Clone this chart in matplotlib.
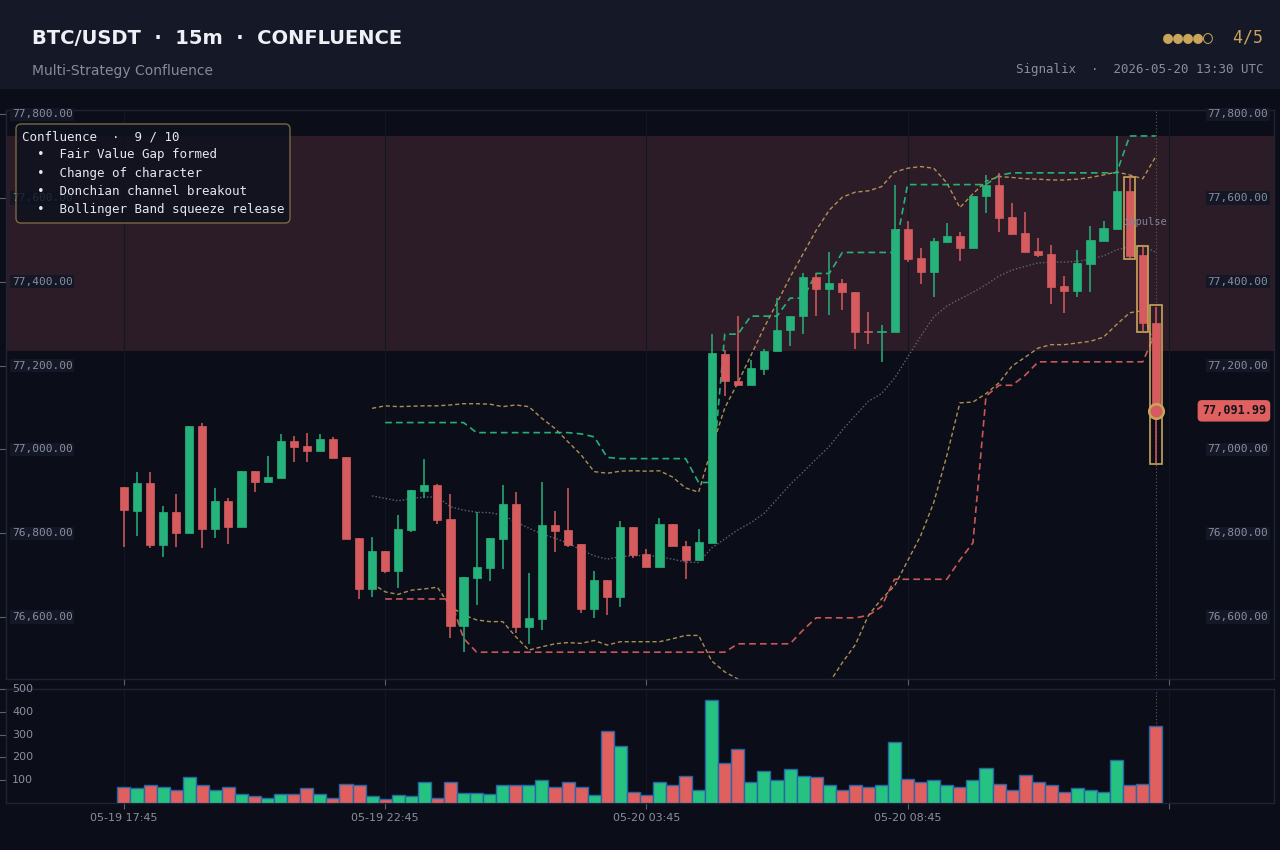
import matplotlib
matplotlib.use('Agg')
import matplotlib.pyplot as plt
import matplotlib.transforms as mtransforms
from matplotlib.patches import Rectangle, FancyBboxPatch
from matplotlib.transforms import IdentityTransform
import numpy as np

plt.rcParams['font.family'] = ['DejaVu Sans']

# ---------------- data ----------------
opens = [76910, 76853, 76919, 76772, 76850, 76801, 77055, 76810, 76876, 76815,
         76948, 76922, 76932, 77021, 77007, 76996, 77024, 76981, 76788, 76667,
         76757, 76710, 76808, 76901, 76914, 76833, 76579, 76694, 76718, 76787,
         76869, 76575, 76596, 76819, 76807, 76774, 76620, 76688, 76648, 76814,
         76750, 76719, 76823, 76770, 76736, 76777, 77228, 77164, 77153, 77193,
         77234, 77284, 77318, 77411, 77382, 77396, 77375, 77282, 77280, 77280,
         77526, 77457, 77423, 77496, 77509, 77481, 77604, 77631, 77555, 77517,
         77474, 77467, 77390, 77379, 77443, 77498, 77526, 77617, 77464, 77302]
highs = [76910, 76945, 76945, 76864, 76894, 77055, 77064, 76909, 76885, 76948,
         76948, 76984, 77037, 77033, 77040, 77037, 77030, 76981, 76788, 76790,
         76757, 76844, 76902, 76978, 76918, 76894, 76695, 76851, 76788, 76916,
         76899, 76704, 76921, 76852, 76909, 76774, 76709, 76688, 76828, 76814,
         76762, 76836, 76823, 76781, 76809, 77275, 77238, 77318, 77214, 77240,
         77361, 77319, 77420, 77418, 77470, 77407, 77375, 77329, 77298, 77632,
         77545, 77481, 77505, 77541, 77519, 77605, 77654, 77660, 77589, 77566,
         77505, 77488, 77415, 77476, 77533, 77545, 77748, 77647, 77482, 77341]
lows = [76767, 76793, 76764, 76742, 76768, 76801, 76764, 76788, 76774, 76815,
        76898, 76922, 76932, 76971, 76971, 76996, 76979, 76786, 76643, 76647,
        76704, 76668, 76804, 76883, 76821, 76549, 76516, 76629, 76686, 76714,
        76562, 76536, 76569, 76755, 76767, 76609, 76598, 76604, 76625, 76740,
        76719, 76719, 76769, 76690, 76736, 76777, 77127, 77153, 77153, 77177,
        77234, 77247, 77275, 77319, 77320, 77333, 77240, 77252, 77209, 77280,
        77448, 77394, 77364, 77492, 77450, 77481, 77564, 77520, 77515, 77472,
        77460, 77346, 77325, 77364, 77375, 77498, 77526, 77456, 77282, 76968]
closes = [76855, 76919, 76772, 76850, 76801, 77055, 76810, 76876, 76815, 76948,
          76922, 76933, 77021, 77006, 76996, 77024, 76979, 76786, 76667, 76757,
          76710, 76809, 76902, 76914, 76832, 76579, 76695, 76719, 76788, 76869,
          76575, 76598, 76819, 76806, 76772, 76620, 76688, 76648, 76814, 76748,
          76719, 76823, 76769, 76736, 76778, 77229, 77163, 77153, 77195, 77236,
          77286, 77319, 77411, 77382, 77397, 77375, 77280, 77279, 77283, 77526,
          77455, 77423, 77498, 77510, 77481, 77605, 77631, 77553, 77515, 77472,
          77465, 77388, 77379, 77446, 77500, 77529, 77617, 77462, 77302, 77091.99]
volumes = [68, 64, 77, 68, 55, 112, 81, 59, 68, 38,
           29, 24, 38, 38, 64, 38, 24, 85, 81, 29,
           16, 33, 29, 94, 24, 90, 46, 46, 38, 81,
           81, 77, 99, 72, 94, 72, 33, 315, 251, 50,
           37, 90, 77, 120, 59, 452, 177, 238, 94, 142,
           99, 151, 120, 116, 77, 59, 81, 72, 77, 269,
           107, 94, 99, 81, 68, 99, 155, 85, 55, 125,
           90, 77, 50, 64, 55, 50, 190, 81, 85, 338]

# Bollinger bands, from candle 19 on
bb_start = 19
bb_upper = [77098, 77104, 77102, 77103, 77104, 77104, 77106, 77109, 77109, 77108, 77102,
            77106, 77102, 77074, 77050, 77018, 76987, 76947, 76943, 76948, 76949,
            76948, 76949, 76934, 76908, 76898, 77003, 77099, 77159, 77224, 77290,
            77350, 77411, 77467, 77523, 77571, 77602, 77614, 77617, 77627, 77662,
            77671, 77675, 77671, 77636, 77577, 77610, 77640, 77651, 77649, 77646,
            77645, 77643, 77643, 77645, 77649, 77655, 77662, 77655, 77646, 77699]
bb_mid = [76889, 76883, 76877, 76883, 76886, 76887, 76863, 76855, 76850, 76849, 76843,
          76827, 76812, 76798, 76788, 76776, 76760, 76746, 76738, 76744, 76746,
          76747, 76744, 76738, 76731, 76730, 76765, 76786, 76808, 76825, 76847,
          76881, 76916, 76946, 76977, 77007, 77046, 77081, 77115, 77133, 77170,
          77220, 77270, 77316, 77342, 77359, 77375, 77393, 77414, 77428, 77437,
          77445, 77447, 77447, 77449, 77454, 77462, 77476, 77484, 77487, 77470]
bb_lower = [76680, 76660, 76654, 76664, 76667, 76671, 76625, 76605, 76593, 76589, 76589,
            76553, 76521, 76529, 76536, 76539, 76537, 76544, 76533, 76541, 76541,
            76541, 76541, 76548, 76556, 76556, 76495, 76469, 76452, 76426, 76404,
            76412, 76421, 76425, 76431, 76443, 76491, 76534, 76604, 76643, 76674,
            76734, 76794, 76873, 76985, 77111, 77113, 77133, 77159, 77199, 77220,
            77242, 77250, 77250, 77254, 77258, 77268, 77298, 77326, 77331, 77237]

# Donchian channel, from candle 20 on
dc_start = 20
dc_upper = [77064, 77064, 77064, 77064, 77064, 77064, 77064,
            77040, 77040, 77040, 77040, 77040, 77040, 77040, 77040,
            77037, 77030, 76981,
            76978, 76978, 76978, 76978, 76978, 76978,
            76921, 76921, 77275, 77275, 77318, 77318, 77318,
            77361, 77361, 77420, 77420,
            77470, 77470, 77470, 77470, 77470,
            77632, 77632, 77632, 77632, 77632, 77632, 77632,
            77654, 77660, 77660, 77660, 77660, 77660, 77660, 77660, 77660, 77660,
            77748, 77748, 77748]
dc_lower = [76643, 76643, 76643, 76643, 76643, 76643, 76549,
            76516, 76516, 76516, 76516, 76516, 76516, 76516, 76516, 76516, 76516,
            76516, 76516, 76516, 76516, 76516, 76516, 76516, 76516, 76516, 76516,
            76536, 76536, 76536, 76536, 76536, 76569,
            76598, 76598, 76598, 76598, 76604, 76625,
            76690, 76690, 76690, 76690, 76690, 76736, 76777, 77127,
            77153, 77153, 77177,
            77209, 77209, 77209, 77209, 77209, 77209, 77209, 77209, 77209,
            77280]

zone_low, zone_high = 77234, 77748
x_tick_pos = [0, 20, 40, 60, 80]
x_tick_labels = ['05-19 17:45', '05-19 22:45', '05-20 03:45', '05-20 08:45', '']
price_ticks = [76600, 76800, 77000, 77200, 77400, 77600, 77800]
vol_ticks = [100, 200, 300, 400, 500]
signal_title = 'Confluence  \u00b7  9 / 10'
signal_items = ['Fair Value Gap formed', 'Change of character',
                'Donchian channel breakout', 'Bollinger Band squeeze release']
highlight_idx = [77, 78, 79]
last_price = 77091.99

# ---------------- style ----------------
BG = '#0b0e19'
HEADER = '#151826'
GREEN = '#26b27b'
RED = '#d65b5e'
VGREEN = '#26c282'
VRED = '#e05f5f'
GOLD = '#c9a55c'
LABEL = '#8a8f9e'
SPINE = '#1f2435'
MONO = 'DejaVu Sans Mono'

W, H = 1280, 850
fig = plt.figure(figsize=(12.8, 8.5), dpi=100, facecolor=BG)

fig.add_artist(Rectangle((0, 1 - 89 / H), 1, 89 / H, transform=fig.transFigure,
                         facecolor=HEADER, edgecolor='none', zorder=0))

ax = fig.add_axes([6 / W, 1 - 679 / H, 1268 / W, 569 / H], facecolor=BG)
axv = fig.add_axes([6 / W, 1 - 803 / H, 1268 / W, 114 / H], facecolor=BG)

n = len(opens)
x = np.arange(n)
o = np.array(opens); h = np.array(highs); l = np.array(lows); c = np.array(closes)
up = c >= o

# zone
ax.axhspan(zone_low, zone_high, color='#2c1c27', zorder=0.5, lw=0)

# grid
for a in (ax, axv):
    for xt in x_tick_pos:
        a.axvline(xt, color='#121725', lw=0.8, zorder=0.6)

# candles
cc = [GREEN if u else RED for u in up]
ax.vlines(x, l, h, colors=cc, lw=1.1, zorder=3)
body_bottom = np.minimum(o, c)
body_h = np.maximum(np.abs(c - o), 3.0)
ax.bar(x, body_h, bottom=body_bottom, width=0.62, color=cc, edgecolor=cc,
       linewidth=0.5, zorder=4)

# Bollinger
xb = np.arange(bb_start, bb_start + len(bb_upper))
ax.plot(xb, bb_upper, color=GOLD, lw=1.0, dashes=(3, 2), alpha=0.85, zorder=2.5)
ax.plot(xb, bb_lower, color=GOLD, lw=1.0, dashes=(3, 2), alpha=0.85, zorder=2.5)
ax.plot(xb, bb_mid, color='#5f6474', lw=1.0, ls=(0, (1, 1.5)), zorder=2.5)

# Donchian
xd = np.arange(dc_start, dc_start + len(dc_upper))
ax.plot(xd, dc_upper, color=VGREEN, lw=1.2, dashes=(4, 2.5), alpha=0.9, zorder=2.6)
ax.plot(xd, dc_lower, color=VRED, lw=1.2, dashes=(4, 2.5), alpha=0.9, zorder=2.6)

# highlighted candles
for i in highlight_idx:
    ax.add_patch(Rectangle((i - 0.44, lows[i] - 2.5), 0.88, highs[i] - lows[i] + 5,
                           fill=False, edgecolor=GOLD, lw=1.2, zorder=5))
ax.text(highlight_idx[0] - 0.48, 77543, 'impulse', color='#80859a', fontsize=7.5,
        family=MONO, ha='left', va='center', zorder=6)
ax.plot([n - 1], [last_price], 'o', ms=10.5, mfc=RED, mec=GOLD, mew=1.8, zorder=7)

# last candle marker line
for a in (ax, axv):
    a.axvline(n - 1, color='#6e5a42', lw=0.8, ls=(0, (1, 2)), zorder=1)

ax.set_xlim(-9.03, 88.05)
ax.set_ylim(76452, 77810)
axv.set_xlim(-9.03, 88.05)
axv.set_ylim(0, 500)

# volume
vc = [VGREEN if u else VRED for u in up]
axv.bar(x, volumes, width=1.0, color=vc, edgecolor='#2767a8', linewidth=1.0, zorder=3)

# axes styling
for a in (ax, axv):
    for s in a.spines.values():
        s.set_color(SPINE)
        s.set_linewidth(1.0)
    a.tick_params(axis='both', colors='#5c6172', length=5, width=0.8, direction='out')
    a.set_xticks(x_tick_pos)
ax.tick_params(axis='x', labelbottom=False, length=4)
ax.set_yticks(price_ticks)
ax.tick_params(axis='y', labelleft=False)
axv.set_yticks(vol_ticks)
axv.tick_params(axis='y', labelleft=False)
axv.set_xticklabels(x_tick_labels)
axv.tick_params(axis='x', labelcolor=LABEL, labelsize=8, length=4, pad=3)

# in-axes price labels
tl = mtransforms.blended_transform_factory(ax.transAxes, ax.transData)
for yt in price_ticks:
    lab = f'{yt:,.2f}'
    ax.text(6 / 1268, yt, lab, transform=tl, ha='left', va='center', fontsize=8,
            family=MONO, color=LABEL, zorder=6,
            bbox=dict(boxstyle='square,pad=0.15', fc='#131726', ec='none'))
    ax.text(1 - 6 / 1268, yt, lab, transform=tl, ha='right', va='center', fontsize=8,
            family=MONO, color=LABEL, zorder=6,
            bbox=dict(boxstyle='square,pad=0.15', fc='#131726', ec='none'))
ax.text(1 - 8 / 1268, last_price, f'{last_price:,.2f}', transform=tl, ha='right',
        va='center', fontsize=8.5, family=MONO, fontweight='bold', color='#12141c',
        zorder=8, bbox=dict(boxstyle='round,pad=0.3,rounding_size=0.3', fc=VRED, ec=VRED))

tv = mtransforms.blended_transform_factory(axv.transAxes, axv.transData)
for vt in vol_ticks:
    axv.text(6 / 1268, vt, f'{vt}', transform=tv, ha='left', va='center', fontsize=8,
             color=LABEL, zorder=6)

# header texts
fig.text(32 / W, 1 - 39 / H, 'BTC/USDT  \u00b7  15m  \u00b7  CONFLUENCE', fontsize=14,
         fontweight='bold', color='#eef0f6', ha='left', va='center')
fig.text(32 / W, 1 - 71 / H, 'Multi-Strategy Confluence', fontsize=10,
         color='#858a9c', ha='left', va='center')
fig.text(1263 / W, 1 - 38 / H, '\u25cf\u25cf\u25cf\u25cf\u25cb  4/5', fontsize=12,
         family=[MONO, 'DejaVu Sans'], color=GOLD, ha='right', va='center')
fig.text(1263 / W, 1 - 70 / H, 'Signalix  \u00b7  2026-05-20 13:30 UTC', fontsize=9,
         family=MONO, color=LABEL, ha='right', va='center')

# signal box (semi-transparent, so the price label behind it shows faintly)
box = FancyBboxPatch((16, H - 223), 274, 99, boxstyle='round,pad=0,rounding_size=5',
                     transform=IdentityTransform(), facecolor='#0e121e', edgecolor='#8f7a4a',
                     lw=1.0, alpha=0.82, zorder=10)
fig.add_artist(box)
lines = [signal_title] + ['  \u2022  ' + s for s in signal_items]
for k, t in enumerate(lines):
    fig.text(22 / W, 1 - (136.7 + 18.2 * k) / H, t, fontsize=9, family=MONO,
             color='#e6e8ef', ha='left', va='center', zorder=11)

fig.savefig('out.png', dpi=100, facecolor=BG)
